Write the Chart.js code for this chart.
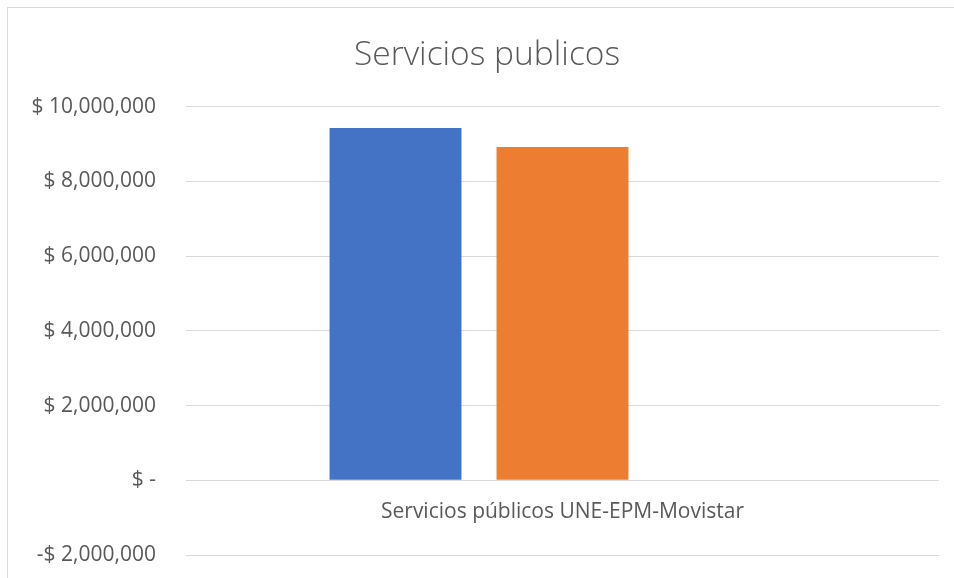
<!DOCTYPE html>
<html>
<head>
<meta charset="utf-8">
<script src="https://cdn.jsdelivr.net/npm/chart.js@4/dist/chart.umd.min.js"></script>
<style>
  body { margin: 0; background: #fff; }
  #wrap { position: relative; width: 954px; height: 578px; overflow: hidden; }
  #frame { position: absolute; left: 7px; top: 7px; width: 980px; height: 600px; border: 1px solid #d9d9d9; }
  canvas { position: absolute; left: 0; top: 0; }
</style>
</head>
<body>
<div id="wrap">
  <div id="frame"></div>
  <canvas id="chart" width="974" height="578"></canvas>
</div>
<script>
// Datos del gráfico
const categories = ["Servicios públicos UNE-EPM-Movistar"];
const serieUno = [9430000];
const serieDos = [8920000];
const serieTres = [0]; // tercera serie vacía (ocupa su hueco)
const yTicks = [-2000000, 0, 2000000, 4000000, 6000000, 8000000, 10000000];

const fontFamily = "'Open Sans', 'Liberation Sans', sans-serif";
const textColor = '#595959';

function formatoPesos(v) {
    if (v === 0) return '$ -';
    const s = Math.abs(v).toLocaleString('en-US');
    return (v < 0 ? '-$ ' : '$ ') + s;
}

const ctx = document.getElementById('chart').getContext('2d');
new Chart(ctx, {
    type: 'bar',
    data: {
        labels: categories,
        datasets: [
            { label: 'Serie 1', data: serieUno, backgroundColor: '#4472C4', borderWidth: 0 },
            { label: 'Serie 2', data: serieDos, backgroundColor: '#ED7D31', borderWidth: 0 },
            { label: 'Serie 3', data: serieTres, backgroundColor: '#A5A5A5', borderWidth: 0 }
        ]
    },
    options: {
        responsive: false,
        animation: false,
        categoryPercentage: 0.6653,
        barPercentage: 0.79,
        layout: { padding: { top: 9, right: 0, bottom: 23, left: 0 } },
        plugins: {
            legend: { display: false },
            tooltip: { enabled: false },
            title: {
                display: true,
                text: 'Servicios publicos',
                color: textColor,
                font: { family: fontFamily, size: 33.5, weight: 300, lineHeight: 1.2 },
                padding: { top: 26, bottom: 31.5 }
            }
        },
        scales: {
            x: {
                position: { y: 0 },
                afterFit: scale => { scale.height = 0; },
                grid: { display: false, drawTicks: false },
                border: { display: false },
                ticks: {
                    color: textColor,
                    padding: 19,
                    font: { family: fontFamily, size: 21 }
                }
            },
            y: {
                min: -2000000,
                max: 10000000,
                afterBuildTicks: scale => { scale.ticks = yTicks.map(v => ({ value: v })); },
                afterFit: scale => {
                    scale.width = 186;
                    scale.paddingTop = 0;
                    scale.paddingBottom = 0;
                },
                grid: { color: '#d9d9d9', lineWidth: 1, drawTicks: false },
                border: { display: false },
                ticks: {
                    color: textColor,
                    padding: 30,
                    font: { family: fontFamily, size: 21 },
                    callback: v => formatoPesos(v)
                }
            },
            // eje vacío a la derecha: solo reserva el margen derecho del área de trazado
            margen: {
                position: 'right',
                afterFit: scale => {
                    scale.width = 35;
                    scale.paddingTop = 0;
                    scale.paddingBottom = 0;
                },
                grid: { display: false },
                border: { display: false },
                ticks: { display: false }
            }
        }
    }
});
</script>
</body>
</html>
